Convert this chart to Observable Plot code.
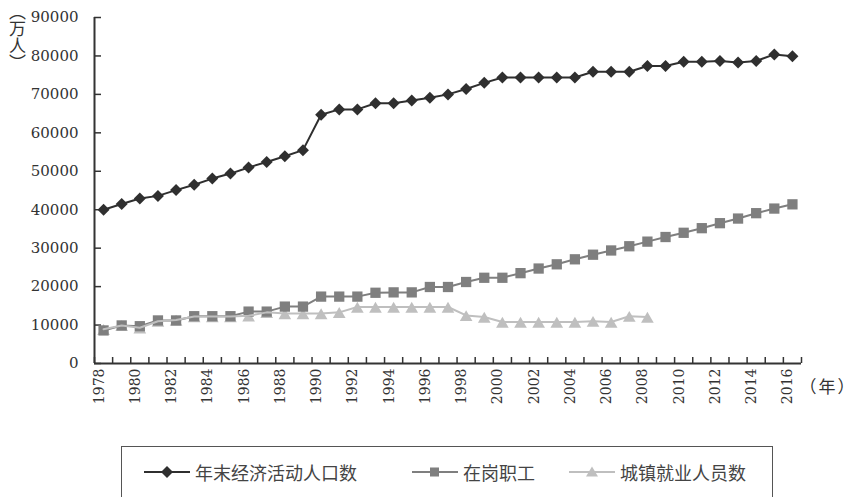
<!DOCTYPE html>
<html>
<head>
<meta charset="utf-8">
<script src="https://cdn.jsdelivr.net/npm/d3@7"></script>
<script src="https://cdn.jsdelivr.net/npm/@observablehq/plot@0.6"></script>
<style>
  body { margin: 0; background: #fff; }
  #wrap { position: relative; width: 851px; height: 497px; overflow: hidden; background: #fff; }
  #ylab { position: absolute; left: 9px; top: 3px; writing-mode: vertical-rl; font: 17px "Noto Sans CJK SC", sans-serif; color: #333; line-height: 1; }
  #xlab { position: absolute; left: 808px; top: 373px; font: 17px "Noto Sans CJK SC", sans-serif; font-feature-settings: "halt"; letter-spacing: 2px; color: #333; white-space: nowrap; }
  #legend { position: absolute; left: 121px; top: 446px; width: 652px; height: 52px; box-sizing: border-box; border: 1.5px solid #555; }
  .item { position: absolute; top: 12px; display: flex; align-items: center; font: 18px "Noto Sans CJK SC", sans-serif; color: #444; }
  .item svg { margin-right: 5px; }
</style>
</head>
<body>
<div id="wrap">
  <div id="chart"></div>
  <div id="ylab">（万人）</div>
  <div id="xlab">（年）</div>
  <div id="legend"></div>
</div>
<script>
// Values in 万人
const years = [1978, 1979, 1980, 1981, 1982, 1983, 1984, 1985, 1986, 1987,
  1988, 1989, 1990, 1991, 1992, 1993, 1994, 1995, 1996, 1997,
  1998, 1999, 2000, 2001, 2002, 2003, 2004, 2005, 2006, 2007,
  2008, 2009, 2010, 2011, 2012, 2013, 2014, 2015, 2016];

const econActive = [40000, 41500, 42900, 43600, 45100, 46500, 48100, 49400, 51000, 52400,
  53900, 55500, 64700, 66100, 66100, 67700, 67700, 68400, 69100, 70000,
  71400, 73000, 74400, 74400, 74400, 74400, 74400, 75900, 75900, 75900,
  77400, 77400, 78500, 78500, 78700, 78300, 78700, 80400, 79900];

const onPostStaff = [8600, 9900, 9700, 11200, 11200, 12300, 12300, 12300, 13500, 13500,
  14800, 14800, 17400, 17400, 17400, 18400, 18500, 18500, 19900, 19900,
  21200, 22300, 22300, 23500, 24700, 25800, 27100, 28300, 29400, 30500,
  31700, 32900, 34000, 35200, 36500, 37700, 39100, 40300, 41400];

// 1978-2008 only
const urbanEmployed = [8900, 9900, 9300, 11000, 11300, 12200, 12200, 12200, 12400, 13300,
  13000, 13000, 13000, 13300, 14700, 14700, 14700, 14700, 14700, 14700,
  12500, 12100, 10800, 10800, 10800, 10800, 10800, 11000, 10800, 12300,
  12100];

const seriesNames = ["年末经济活动人口数", "在岗职工", "城镇就业人员数"];
const yTicks = [0, 10000, 20000, 30000, 40000, 50000, 60000, 70000, 80000, 90000];

const ink = "#333";
const colors = ["#2f2f2f", "#7f7f7f", "#bfbfbf"];
const serif = '"DejaVu Serif", serif';

const labelYears = years.filter((y, i) => i % 2 === 0);
const bounds = years.map(y => y - 0.5).concat([years[years.length - 1] + 0.5]);

const s1 = years.map((year, i) => ({year, value: econActive[i]}));
const s2 = years.map((year, i) => ({year, value: onPostStaff[i]}));
const s3 = urbanEmployed.map((value, i) => ({year: years[i], value}));

const chart = Plot.plot({
  width: 851,
  height: 430,
  marginLeft: 94,
  marginRight: 50,
  marginTop: 17,
  marginBottom: 67,
  style: { background: "transparent", color: ink, fontFamily: serif },
  x: { type: "linear", domain: [bounds[0], bounds[bounds.length - 1]], axis: null, label: null },
  y: { domain: [0, 90000], axis: null, label: null },
  marks: [
    // inward tick marks
    Plot.axisY({ ticks: yTicks, tickSize: -7, tickFormat: () => "", stroke: ink, strokeWidth: 1.5, label: null }),
    Plot.axisY({ ticks: yTicks, tickSize: 0, tickPadding: 16, tickFormat: d => String(d), fontSize: 15, fontFamily: serif, fill: ink, label: null }),
    Plot.axisX({ ticks: bounds, tickSize: -6, tickFormat: () => "", stroke: ink, strokeWidth: 1.5, label: null }),
    Plot.text(labelYears, { x: d => d, frameAnchor: "bottom", rotate: -90, textAnchor: "end", dy: 5, fontSize: 14, fontFamily: serif, fill: ink, text: d => String(d) }),
    Plot.ruleX([bounds[0]], { stroke: ink, strokeWidth: 2 }),
    Plot.ruleY([0], { stroke: ink, strokeWidth: 2 }),

    Plot.line(s1, { x: "year", y: "value", stroke: colors[0], strokeWidth: 2 }),
    Plot.dot(s1, { x: "year", y: "value", symbol: "diamond2", r: 5.4, fill: colors[0] }),
    Plot.line(s2, { x: "year", y: "value", stroke: colors[1], strokeWidth: 2 }),
    Plot.dot(s3, { x: "year", y: "value", symbol: "triangle", r: 4.7, dy: 2, fill: colors[2] }),
    Plot.dot(s2, { x: "year", y: "value", symbol: "square", r: 5.8, fill: colors[1] }),
    Plot.line(s3, { x: "year", y: "value", stroke: colors[2], strokeWidth: 2 })
  ]
});
document.getElementById("chart").append(chart);

// legend
const legend = document.getElementById("legend");
const lefts = [22, 290, 447];
const shapes = [
  '<path d="M23,1 L29,7 L23,13 L17,7 Z"/>',
  '<rect x="18" y="2.5" width="9" height="9"/>',
  '<path d="M23,1.5 L29,11.5 L17,11.5 Z"/>'
];
seriesNames.forEach((name, i) => {
  const item = document.createElement("div");
  item.className = "item";
  item.style.left = lefts[i] + "px";
  item.innerHTML =
    '<svg width="46" height="14"><line x1="0" x2="46" y1="7" y2="7" stroke="' + colors[i] + '" stroke-width="2"/>' +
    '<g fill="' + colors[i] + '">' + shapes[i] + '</g></svg><span>' + name + '</span>';
  legend.append(item);
});
</script>
</body>
</html>
